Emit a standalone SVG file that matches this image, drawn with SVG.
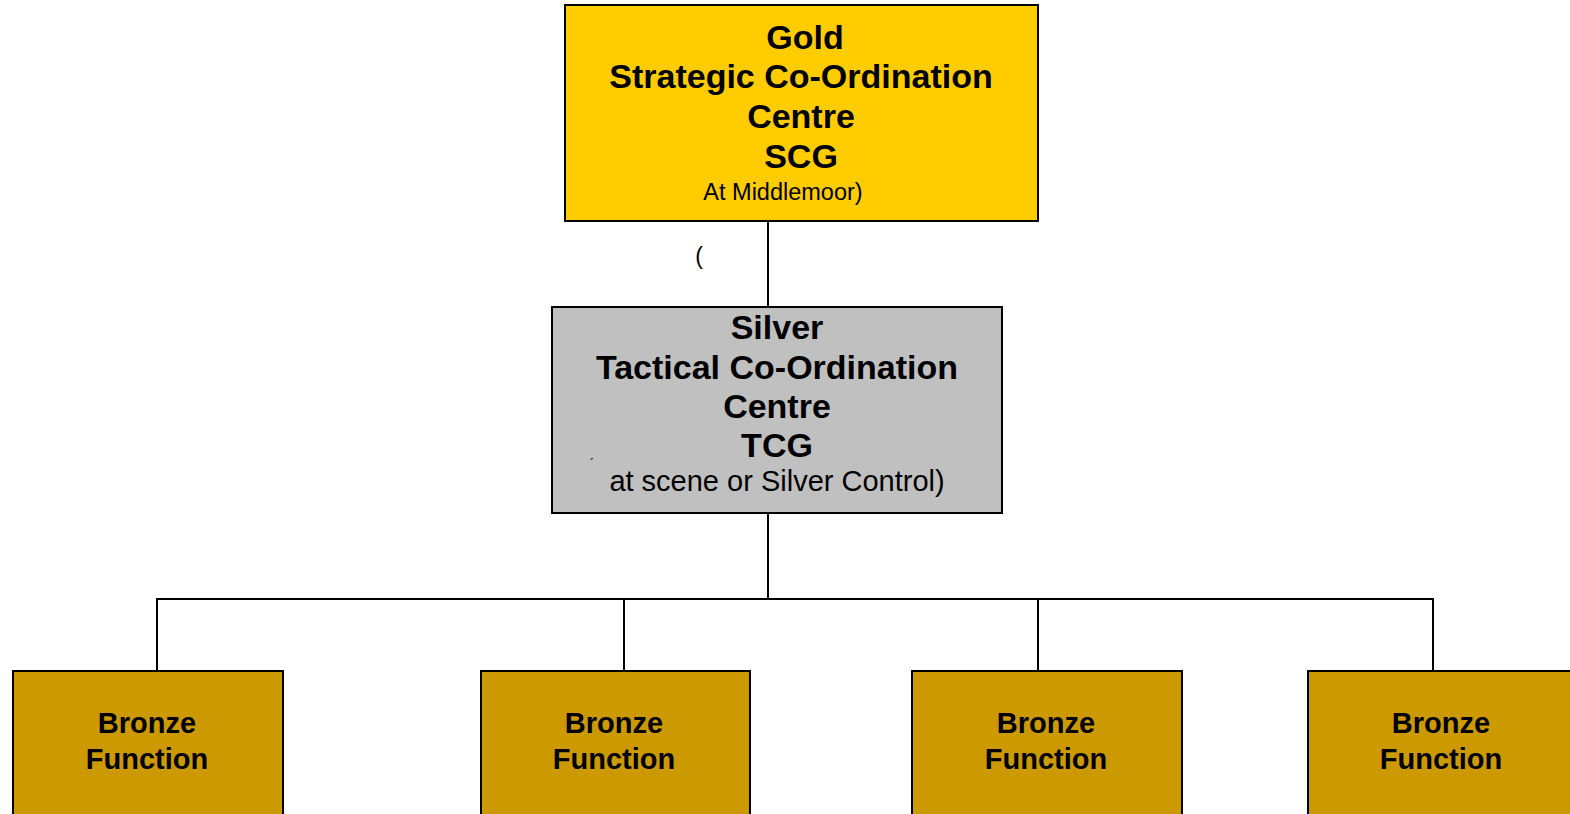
<svg xmlns="http://www.w3.org/2000/svg" width="1570" height="814" viewBox="0 0 1570 814">
<style>
.box{stroke:#000;stroke-width:2}
.gold{fill:#FFCC00}
.silver{fill:#C0C0C0}
.bronze{fill:#CC9900}
.t{font-family:"Liberation Sans",Arial,sans-serif;fill:#000;text-anchor:middle}
.b{font-weight:bold}
.conn{stroke:#000;stroke-width:2;fill:none}
</style>
<rect width="1570" height="814" fill="#fff"/>
<g id="connectors">
<line class="conn" x1="768" y1="221" x2="768" y2="307"/>
<line class="conn" x1="768" y1="513" x2="768" y2="599"/>
<polyline class="conn" points="157,671 157,599 1433,599 1433,671"/>
<line class="conn" x1="624" y1="599" x2="624" y2="671"/>
<line class="conn" x1="1038" y1="599" x2="1038" y2="671"/>
</g>
<g id="gold">
<rect class="box gold" x="565" y="5" width="473" height="216"/>
<text class="t b" font-size="34" x="805" y="49">Gold</text>
<text class="t b" font-size="34" x="801" y="88">Strategic Co-Ordination</text>
<text class="t b" font-size="34" x="801" y="128">Centre</text>
<text class="t b" font-size="34" x="801" y="168">SCG</text>
<text class="t" font-size="23.5" x="783" y="200">At Middlemoor)</text>
</g>
<text class="t" font-size="23" x="699" y="264">(</text>
<g id="silver">
<rect class="box silver" x="552" y="307" width="450" height="206"/>
<text class="t b" font-size="34" x="777" y="339">Silver</text>
<text class="t b" font-size="34" x="777" y="379">Tactical Co-Ordination</text>
<text class="t b" font-size="34" x="777" y="418">Centre</text>
<text class="t b" font-size="34" x="777" y="457">TCG</text>
<text class="t" font-size="14" x="592" y="469">´</text>
<text class="t" font-size="29" x="777" y="491">at scene or Silver Control)</text>
</g>
<g id="bronze1">
<rect class="box bronze" x="13" y="671" width="270" height="150"/>
<text class="t b" font-size="29" x="147" y="733">Bronze</text>
<text class="t b" font-size="29" x="147" y="769">Function</text>
</g>
<g id="bronze2">
<rect class="box bronze" x="481" y="671" width="269" height="150"/>
<text class="t b" font-size="29" x="614" y="733">Bronze</text>
<text class="t b" font-size="29" x="614" y="769">Function</text>
</g>
<g id="bronze3">
<rect class="box bronze" x="912" y="671" width="270" height="150"/>
<text class="t b" font-size="29" x="1046" y="733">Bronze</text>
<text class="t b" font-size="29" x="1046" y="769">Function</text>
</g>
<g id="bronze4">
<rect class="box bronze" x="1308" y="671" width="270" height="150"/>
<text class="t b" font-size="29" x="1441" y="733">Bronze</text>
<text class="t b" font-size="29" x="1441" y="769">Function</text>
</g>
</svg>
